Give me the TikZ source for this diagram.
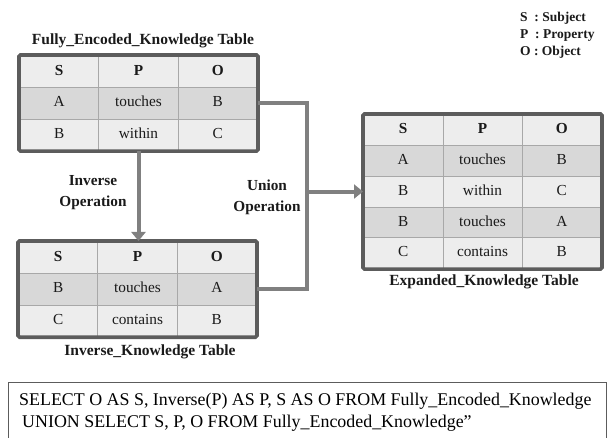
\documentclass[tikz,border=0pt]{standalone}
\usepackage{fontspec}
\setmainfont{Liberation Serif}
\usetikzlibrary{matrix,arrows.meta,calc}

\definecolor{framegray}{HTML}{5C5C5C}
\definecolor{gridgray}{HTML}{A8A8A8}
\definecolor{lightcell}{HTML}{EDEDED}
\definecolor{darkcell}{HTML}{D8D8D8}
\definecolor{conngray}{HTML}{808080}
\definecolor{inkgray}{HTML}{1A1A1A}

\tikzset{
  x=1pt, y=-1pt,
  kbcell/.style={draw=gridgray, line width=0.7pt, fill=lightcell,
    minimum width=79.3pt, inner sep=0pt, text height=10.5pt, text depth=3pt,
    text=inkgray, font=\fontsize{15.3}{15}\selectfont},
  kbtable/.style={matrix of nodes, inner sep=0pt, anchor=north west,
    column sep=-0.7pt, row sep=-0.7pt,
    nodes={kbcell, minimum height=#1},
    row 1/.style={nodes={font=\fontsize{15.3}{15}\selectfont\bfseries}}},
  shaded/.style={nodes={fill=darkcell}},
  tableframe/.style={draw=framegray, line width=3.6pt, rounded corners=1.5pt},
  conn/.style={draw=conngray, line width=4pt},
  tip/.style={-{Triangle[width=14pt,length=9pt]}},
  caption/.style={font=\fontsize{15.5}{16}\selectfont\bfseries, text=inkgray, inner sep=0pt},
  oplabel/.style={caption, align=center, font=\fontsize{15.3}{21}\selectfont\bfseries},
  legend/.style={font=\fontsize{13.5}{17}\selectfont\bfseries, text=inkgray, inner sep=0pt, align=left},
  querytext/.style={font=\fontsize{17.9}{18}\selectfont, text=black, inner sep=0pt, anchor=base west},
}

\begin{document}
\begin{tikzpicture}
  \useasboundingbox (0,0) rectangle (613,438);

  % source table
  \matrix (fek) [kbtable=31.7pt, row 2/.style={shaded}] at (19,55) {
    S & P & O \\
    A & touches & B \\
    B & within & C \\
  };
  \draw[tableframe] (fek.north west) rectangle (fek.south east);
  \node[caption] (fektitle) at (143,41) {Fully\_Encoded\_Knowledge Table};

  % inverse table
  \matrix (inv) [kbtable=31.7pt, row 2/.style={shaded}] at (18,241) {
    S & P & O \\
    B & touches & A \\
    C & contains & B \\
  };
  \draw[tableframe] (inv.north west) rectangle (inv.south east);
  \node[caption] (invtitle) at (150,352) {Inverse\_Knowledge Table};

  % expanded table
  \matrix (exp) [kbtable=30.8pt, row 2/.style={shaded}, row 4/.style={shaded}] at (363,114) {
    S & P & O \\
    A & touches & B \\
    B & within & C \\
    B & touches & A \\
    C & contains & B \\
  };
  \draw[tableframe] (exp.north west) rectangle (exp.south east);
  \node[caption] (exptitle) at (484,282) {Expanded\_Knowledge Table};

  % legend
  \node[legend, anchor=north west] (legend) at (520,12)
    {S~ : Subject\\P~ : Property\\O : Object};

  % inverse operation
  \draw[conn, tip] (fek.south -| fek-3-2) -- (inv.north -| fek-3-2);
  \node[oplabel] (invop) at (93,193) {Inverse\\Operation};

  % union operation
  \coordinate (uj) at (307,0 |- exp-3-1);
  \draw[conn] (fek.east |- fek-2-3) -| (uj) |- (inv.east |- inv-2-3);
  \draw[conn, tip] (uj) -- (exp.west |- exp-3-1);
  \node[oplabel] (unop) at (267,197) {Union\\Operation};

  % query
  \node[draw=framegray, line width=0.8pt, anchor=north west,
        minimum width=598pt, minimum height=56pt, inner sep=0pt] (qbox) at (8,382) {};
  \node[querytext] (q1) at (19,405)
    {SELECT O AS S, Inverse(P) AS P, S AS O FROM Fully\_Encoded\_Knowledge};
  \node[querytext] (q2) at (22,427)
    {UNION SELECT S, P, O FROM Fully\_Encoded\_Knowledge”};
\end{tikzpicture}
\end{document}
